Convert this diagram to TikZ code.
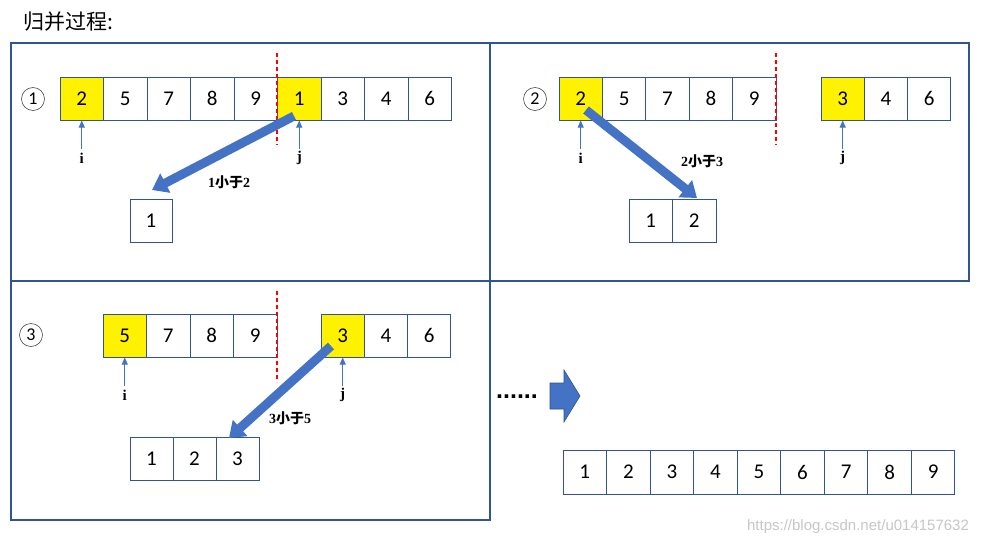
\documentclass[tikz,border=0pt]{standalone}
\usepackage{fontspec}
\setmainfont{Carlito}
\newfontfamily\cjk{Noto Sans CJK SC}
\newfontfamily\serif{Liberation Serif}
\newfontfamily\wm{Liberation Sans}
\usetikzlibrary{arrows.meta,calc}
\definecolor{frame}{HTML}{2F5597}
\definecolor{abl}{HTML}{4472C4}
\definecolor{abd}{HTML}{2F528F}
\definecolor{cutred}{HTML}{FF0000}
\begin{document}
\begin{tikzpicture}[x=1pt,y=-1pt,
 cell/.style={draw=frame, line width=1pt, minimum width=43.5pt, minimum height=43pt, inner sep=0pt, font=\fontsize{21}{21}\selectfont},
 hl/.style={fill=yellow},
 panel/.style={draw=frame, line width=1.1pt},
 split/.style={draw=cutred, dash pattern=on 4pt off 3pt, line width=1.5pt},
 ptr/.style={draw=abl, line width=0.9pt, -{Triangle[length=7pt,width=6pt]}},
 ptrlabel/.style={font=\serif\bfseries\fontsize{15}{15}\selectfont, inner sep=0pt},
 move/.style={abl, line width=9pt, -{Triangle[length=15pt,width=21pt]}},
 cmp/.style={font=\bfseries\fontsize{14}{14}\selectfont, inner sep=0pt},
 stepnum/.style={circle, draw=black!70, line width=0.6pt, minimum size=23pt, inner sep=0pt, font=\fontsize{18}{18}\selectfont}
]
\useasboundingbox (0,0) rectangle (985,546);
\fill[white] (0,0) rectangle (985,546);

% title
\node[anchor=west, inner sep=0pt, font=\cjk\fontsize{21}{21}\selectfont] (title) at (23,22) {归并过程:};

% panels
\draw[panel] (11,43) rectangle (490,281);
\draw[panel] (490,43) rectangle (969,281);
\draw[panel] (11,281) rectangle (490,520);

% ---------- panel 1 ----------
\node[stepnum] (s1) at (33,99) {1};
\foreach \v [count=\k] in {2,5,7,8,9,1,3,4,6}
  \node[cell] (p1a\k) at ({81.75+43.5*(\k-1)},98.5) {\v};
\node[cell,hl] at (p1a1) {2};
\node[cell,hl] at (p1a6) {1};
\draw[split] (277,53) -- (277,145);
\node[ptrlabel] (p1i) at (p1a1.south |- 0,158) {i};
\node[ptrlabel] (p1j) at (p1a6.south |- 0,158) {j};
\draw[ptr] ($(p1i.north)+(0,-4)$) -- (p1a1.south);
\draw[ptr] ($(p1j.north)+(0,-2)$) -- (p1a6.south);
\node[cell, minimum width=42pt] (p1r1) at (151,220.5) {1};
\coordinate (m1s) at (294,116);
\coordinate (m1e) at (152,190);
\draw[move] (m1s) -- (m1e);
\node[cmp] (c1) at (229,182) {{\serif 1}{\cjk 小于}{\serif 2}};

% ---------- panel 2 ----------
\node[stepnum] (s2) at (535,99) {2};
\foreach \v [count=\k] in {2,5,7,8,9}
  \node[cell, minimum width=43.4pt] (p2a\k) at ({580.7+43.4*(\k-1)},98.5) {\v};
\foreach \v [count=\k] in {3,4,6}
  \node[cell, minimum width=43.3pt] (p2b\k) at ({842.7+43.3*(\k-1)},98.5) {\v};
\node[cell,hl, minimum width=43.4pt] at (p2a1) {2};
\node[cell,hl, minimum width=43.3pt] at (p2b1) {3};
\draw[split] (776,53) -- (776,145);
\node[ptrlabel] (p2i) at (p2a1.south |- 0,158) {i};
\node[ptrlabel] (p2j) at (p2b1.south |- 0,158) {j};
\draw[ptr] ($(p2i.north)+(0,-4)$) -- (p2a1.south);
\draw[ptr] ($(p2j.north)+(0,-2)$) -- (p2b1.south);
\foreach \v [count=\k] in {1,2}
  \node[cell] (p2r\k) at ({650.75+43.5*(\k-1)},221) {\v};
\coordinate (m2s) at (586,110);
\coordinate (m2e) at (697,198);
\draw[move] (m2s) -- (m2e);
\node[cmp] (c2) at (702,161) {{\serif 2}{\cjk 小于}{\serif 3}};

% ---------- panel 3 ----------
\node[stepnum] (s3) at (31,335) {3};
\foreach \v [count=\k] in {5,7,8,9}
  \node[cell] (p3a\k) at ({124.75+43.5*(\k-1)},335.5) {\v};
\foreach \v [count=\k] in {3,4,6}
  \node[cell, minimum width=43.3pt] (p3b\k) at ({342.7+43.3*(\k-1)},335.5) {\v};
\node[cell,hl] at (p3a1) {5};
\node[cell,hl, minimum width=43.3pt] at (p3b1) {3};
\draw[split] (277,291) -- (277,382);
\node[ptrlabel] (p3i) at (p3a1.south |- 0,395) {i};
\node[ptrlabel] (p3j) at (p3b1.south |- 0,395) {j};
\draw[ptr] ($(p3i.north)+(0,-4)$) -- (p3a1.south);
\draw[ptr] ($(p3j.north)+(0,-2)$) -- (p3b1.south);
\foreach \v [count=\k] in {1,2,3}
  \node[cell, minimum width=43pt] (p3r\k) at ({151.5+43*(\k-1)},458.5) {\v};
\coordinate (m3s) at (331,346);
\coordinate (m3e) at (229,438);
\draw[move] (m3s) -- (m3e);
\node[cmp] (c3) at (290,418) {{\serif 3}{\cjk 小于}{\serif 5}};

% ---------- continuation ----------
\node[inner sep=0pt, font=\wm\bfseries\fontsize{25}{25}\selectfont] (dots) at (517,397) {......};
\draw[fill=abl, draw=abd, line width=0.6pt] (550,383) -- (564,383) -- (564,370) -- (580,396) -- (564,422) -- (564,409) -- (550,409) -- cycle;
\foreach \v [count=\k] in {1,2,3,4,5,6,7,8,9}
  \node[cell, minimum width=43.55pt, minimum height=44pt] (fin\k) at ({584.8+43.55*(\k-1)},472) {\v};

% watermark
\node[inner sep=0pt, text=black!22, font=\wm\fontsize{15}{15}\selectfont] (wmark) at (858,527) {https://blog.csdn.net/u014157632};
\end{tikzpicture}
\end{document}
